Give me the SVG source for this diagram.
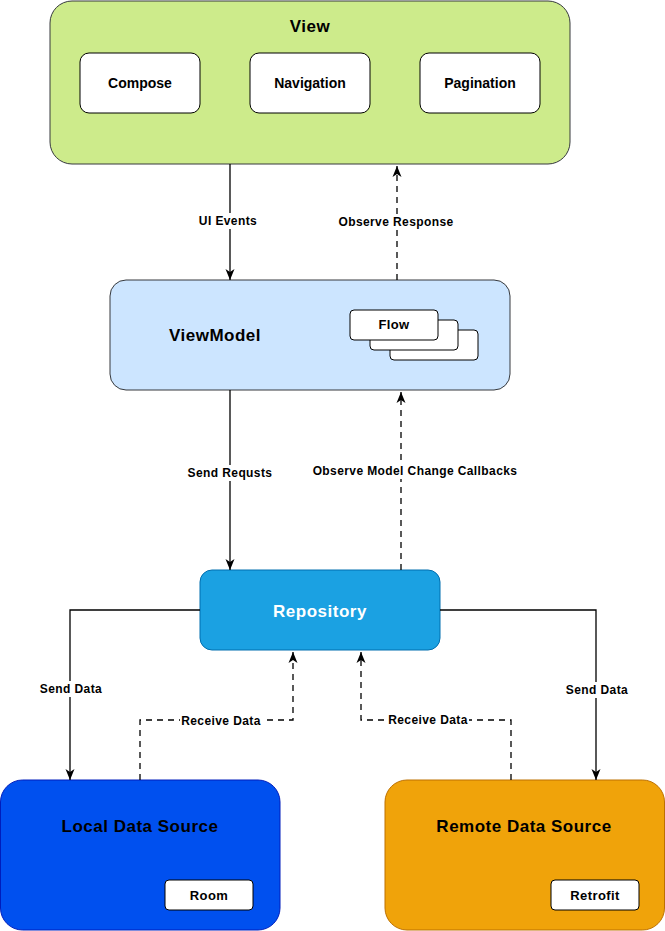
<svg xmlns="http://www.w3.org/2000/svg" width="665" height="931" viewBox="0 0 665 931">
<style>
text{font-family:"Liberation Sans",Arial,Helvetica,sans-serif;font-weight:bold;text-anchor:middle;fill:#000}
.title{font-size:17px;letter-spacing:0.5px}
.node{font-size:14px}
.small{font-size:13px;letter-spacing:0.4px}
.lbl{font-size:12px;letter-spacing:0.4px}
.inner{fill:#fff;stroke:#000;stroke-width:1}
.conn{fill:none;stroke:#000;stroke-width:1.3}
.dash{stroke-dasharray:6 5}
.bg{fill:#fff;stroke:none}
</style>
<defs>
<marker id="arr" markerUnits="userSpaceOnUse" markerWidth="12" markerHeight="10" viewBox="0 0 12 10" refX="11" refY="5" orient="auto">
<path d="M0,0.5 L11,5 L0,9.5 L3,5 Z" fill="#000" stroke="none"/>
</marker>
</defs>

<g id="view">
<rect x="50" y="1" width="520" height="163" rx="22" fill="#cdeb8b" stroke="#36393d" stroke-width="1"/>
<text class="title" x="310" y="32">View</text>
</g>
<g id="compose">
<rect class="inner" x="80" y="53" width="120" height="60" rx="9"/>
<text class="node" x="140" y="88">Compose</text>
</g>
<g id="navigation">
<rect class="inner" x="250" y="53" width="120" height="60" rx="9"/>
<text class="node" x="310" y="88">Navigation</text>
</g>
<g id="pagination">
<rect class="inner" x="420" y="53" width="120" height="60" rx="9"/>
<text class="node" x="480" y="88">Pagination</text>
</g>

<g id="viewmodel">
<rect x="110" y="280" width="400" height="110" rx="16" fill="#cce5ff" stroke="#36393d" stroke-width="1"/>
<text class="title" x="215" y="341">ViewModel</text>
</g>
<g id="flow">
<rect class="inner" x="390" y="330" width="88" height="30" rx="4"/>
<rect class="inner" x="370" y="320" width="88" height="30" rx="4"/>
<rect class="inner" x="350" y="310" width="88" height="30" rx="4"/>
<text class="small" x="394" y="329">Flow</text>
</g>

<g id="repository">
<rect x="200" y="570" width="240" height="80" rx="12" fill="#1ba1e2" stroke="#006eaf" stroke-width="1"/>
<text class="title" x="320" y="617" style="fill:#fff">Repository</text>
</g>

<g id="local">
<rect x="0.5" y="780" width="279.5" height="150" rx="22" fill="#0050ef" stroke="#001dbc" stroke-width="1"/>
<text class="title" x="140" y="832">Local Data Source</text>
</g>
<g id="room">
<rect class="inner" x="165" y="880" width="88" height="30" rx="4"/>
<text class="small" x="209" y="900">Room</text>
</g>

<g id="remote">
<rect x="385" y="780" width="279.5" height="150" rx="22" fill="#f0a30a" stroke="#bd7000" stroke-width="1"/>
<text class="title" x="524" y="832">Remote Data Source</text>
</g>
<g id="retrofit">
<rect class="inner" x="551" y="880" width="88" height="30" rx="4"/>
<text class="small" x="595" y="900">Retrofit</text>
</g>

<g id="connectors">
<path class="conn" d="M230,164 L230,280" marker-end="url(#arr)"/>
<rect class="bg" x="194" y="213" width="68" height="16"/>
<text class="lbl" x="228" y="225">UI Events</text>

<path class="conn dash" d="M397,280 L397,166" marker-end="url(#arr)"/>
<rect class="bg" x="332" y="214" width="130" height="16"/>
<text class="lbl" x="396" y="226">Observe Response</text>

<path class="conn" d="M230,390 L230,570" marker-end="url(#arr)"/>
<rect class="bg" x="182" y="465" width="96" height="16"/>
<text class="lbl" x="230" y="477">Send Requsts</text>

<path class="conn dash" d="M401,570 L401,392" marker-end="url(#arr)"/>
<rect class="bg" x="310" y="463" width="210" height="16"/>
<text class="lbl" x="415" y="475">Observe Model Change Callbacks</text>

<path class="conn" d="M200,610 L70,610 L70,780" marker-end="url(#arr)"/>
<rect class="bg" x="38" y="681" width="66" height="16"/>
<text class="lbl" x="71" y="693">Send Data</text>

<path class="conn" d="M440,610 L596,610 L596,780" marker-end="url(#arr)"/>
<rect class="bg" x="564" y="682" width="66" height="16"/>
<text class="lbl" x="597" y="694">Send Data</text>

<path class="conn dash" d="M140,780 L140,720 L293,720 L293,652" marker-end="url(#arr)"/>
<rect class="bg" x="180" y="713" width="82" height="15"/>
<text class="lbl" x="221" y="725">Receive Data</text>

<path class="conn dash" d="M511,780 L511,720 L361,720 L361,652" marker-end="url(#arr)"/>
<rect class="bg" x="387" y="712" width="82" height="15"/>
<text class="lbl" x="428" y="724">Receive Data</text>
</g>
</svg>
